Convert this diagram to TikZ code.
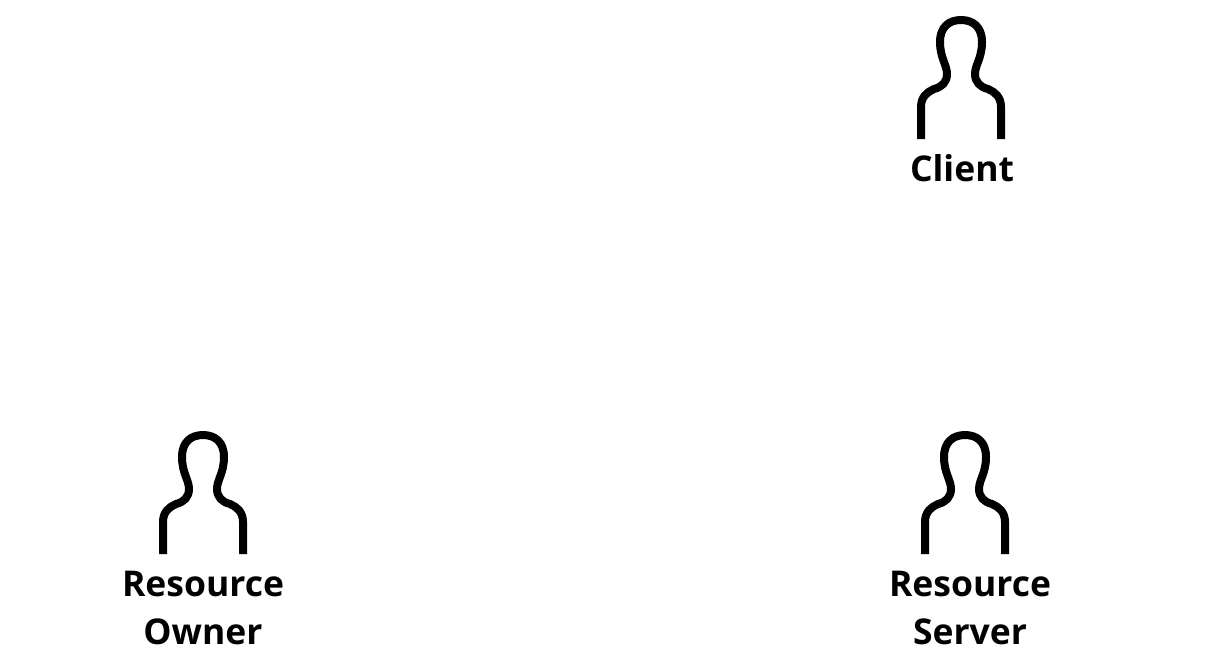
\documentclass[tikz,border=0pt]{standalone}
\usepackage{fontspec}
\setmainfont{Open Sans}
\tikzset{
  x=1pt,y=-1pt,
  figline/.style={line width=8pt,black,line join=round},
  lab/.style={font=\fontsize{35.5}{48}\selectfont\bfseries,align=center,inner sep=0pt,text=black,anchor=center},
  person/.pic={
    \draw[figline] (-40,0) -- (-40,-32)
      .. controls (-40,-42) and (-34,-47) .. (-27,-50)
      .. controls (-19,-52) and (-14,-57) .. (-14,-65)
      .. controls (-14,-74) and (-21,-81) .. (-21,-97)
      .. controls (-21,-112) and (-12,-119) .. (0,-119)
      .. controls (12,-119) and (21,-112) .. (21,-97)
      .. controls (21,-81) and (14,-74) .. (14,-65)
      .. controls (14,-57) and (19,-52) .. (27,-50)
      .. controls (34,-47) and (40,-42) .. (40,-32)
      -- (40,0);
  }
}
\begin{document}
\begin{tikzpicture}
\useasboundingbox (0,0) rectangle (1206,670);
\fill[white] (0,0) rectangle (1206,670);
\pic at (961,139) {person};
\pic at (203,554) {person};
\pic at (965,554) {person};
\node[lab] (client) at (962,168) {Client};
\node[lab] (owner) at (203,608) {Resource\\Owner};
\node[lab] (server) at (970,608) {Resource\\Server};
\end{tikzpicture}
\end{document}
